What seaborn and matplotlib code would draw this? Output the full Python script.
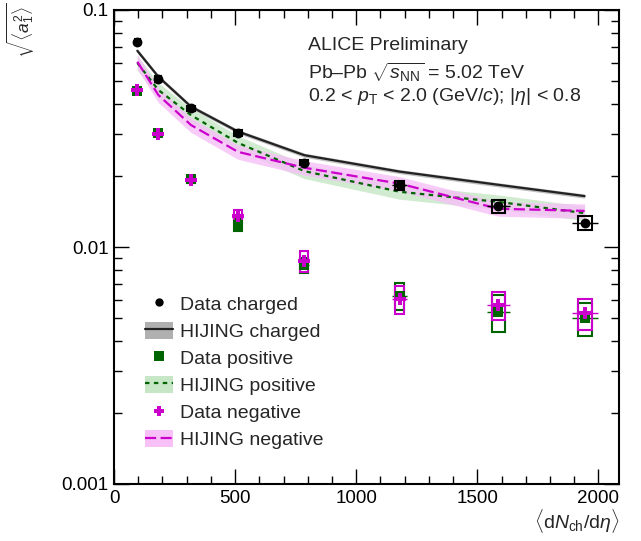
import numpy as np
import pandas as pd
import matplotlib
matplotlib.use('Agg')
import matplotlib.pyplot as plt
import seaborn as sns
from matplotlib.patches import Patch, Rectangle
from matplotlib.lines import Line2D
from matplotlib.ticker import MultipleLocator, LogLocator, NullFormatter, FixedLocator, FixedFormatter

# 数据
dndeta = [96.3, 183, 318, 512, 786, 1180, 1587, 1943]
dndeta_err = [6, 8, 12, 15, 20, 31, 47, 54]

data_charged = [0.0731, 0.0512, 0.0385, 0.0303, 0.0227, 0.0182, 0.0149, 0.0126]
syst_charged = [0.002, 0.0015, 0.001, 0.0008, 0.0006, 0.0008, 0.00095, 0.00085]

data_positive = [0.0457, 0.0302, 0.0193, 0.0124, 0.0084, 0.00624, 0.00533, 0.0050]
syst_positive = [0.0012, 0.0008, 0.0006, 0.0007, 0.00063, 0.00083, 0.00095, 0.0008]

data_negative = [0.0459, 0.0300, 0.0192, 0.01355, 0.00875, 0.00604, 0.00569, 0.00525]
syst_negative = [0.0012, 0.0008, 0.0006, 0.0008, 0.0009, 0.0008, 0.00075, 0.00078]

hijing_charged = [0.0673, 0.0523, 0.0391, 0.0307, 0.0244, 0.0208, 0.0183, 0.0164]
hijing_positive = [0.0598, 0.0460, 0.0360, 0.0275, 0.0209, 0.0171, 0.0155, 0.0139]
hijing_negative = [0.0605, 0.0438, 0.0327, 0.0252, 0.0216, 0.0185, 0.0145, 0.0142]
band_charged = 0.02
band_positive = 0.07
band_negative = 0.07

box_halfwidth = [10, 12, 15, 17, 17, 19, 27, 29]

GREEN = '#006400'
MAGENTA = '#cc00cc'

sns.set_style('ticks')
plt.rcParams['font.family'] = ['Liberation Sans', 'DejaVu Sans']
plt.rcParams['mathtext.fontset'] = 'custom'
plt.rcParams['mathtext.rm'] = 'Liberation Sans'
plt.rcParams['mathtext.it'] = 'Liberation Sans:italic'
plt.rcParams['mathtext.bf'] = 'Liberation Sans:bold'

fig = plt.figure(figsize=(6.41, 5.41), dpi=100)
ax = fig.add_axes([114 / 641, 57 / 541, 505 / 641, 474 / 541])

x = np.array(dndeta)


def draw_model(vals, frac, color, band_color, dashes, z):
    vals = np.array(vals)
    # 带先画, 线放在所有带之上
    ax.fill_between(x, vals * (1 - frac), vals * (1 + frac), color=band_color,
                    lw=0, alpha=0.8, zorder=z)
    sns.lineplot(x=x, y=vals, ax=ax, color=color, lw=1.6, sort=False,
                 estimator=None, zorder=z + 3)
    if dashes is not None:
        ax.lines[-1].set_dashes(dashes)


draw_model(hijing_charged, band_charged, '#222222', '#b0b0b0', None, 1)
draw_model(hijing_positive, band_positive, GREEN, '#c6e6c6', (2, 2), 1.5)
draw_model(hijing_negative, band_negative, MAGENTA, '#f7c0f7', (5, 2), 2)


def draw_boxes(vals, syst, color, z):
    for xi, yi, s, hw in zip(dndeta, vals, syst, box_halfwidth):
        ax.add_patch(Rectangle((xi - hw, yi - s), 2 * hw, 2 * s, fill=False,
                               edgecolor=color, lw=1.5, zorder=z))


draw_boxes(data_positive, syst_positive, GREEN, 6)
draw_boxes(data_negative, syst_negative, MAGENTA, 6.5)
draw_boxes(data_charged, syst_charged, 'black', 7)

ax.errorbar(dndeta, data_positive, xerr=dndeta_err, fmt='none', ecolor=GREEN,
            elinewidth=1, zorder=6)
ax.errorbar(dndeta, data_negative, xerr=dndeta_err, fmt='none', ecolor=MAGENTA,
            elinewidth=1, zorder=6.5)
ax.errorbar(dndeta, data_charged, xerr=dndeta_err, fmt='none', ecolor='black',
            elinewidth=1, zorder=7)

sns.scatterplot(x=dndeta, y=data_positive, ax=ax, marker='s', s=55,
                color=GREEN, linewidth=0, zorder=8)
sns.scatterplot(x=dndeta, y=data_negative, ax=ax, marker='P', s=70,
                color=MAGENTA, linewidth=0, zorder=9)
sns.scatterplot(x=dndeta, y=data_charged, ax=ax, marker='o', s=50,
                color='black', linewidth=0, zorder=10)

# 坐标轴
ax.set_yscale('log')
ax.set_xlim(0, 2085)
ax.set_ylim(0.001, 0.1)
ax.xaxis.set_major_locator(MultipleLocator(500))
ax.xaxis.set_minor_locator(MultipleLocator(100))
ax.yaxis.set_major_locator(FixedLocator([0.001, 0.01, 0.1]))
ax.yaxis.set_major_formatter(FixedFormatter(['0.001', '0.01', '0.1']))
ax.yaxis.set_minor_locator(LogLocator(base=10, subs=np.arange(2, 10)))
ax.yaxis.set_minor_formatter(NullFormatter())
ax.tick_params(which='both', direction='in', top=True, right=True,
               labelsize=13.5, width=1, color='black', labelcolor='black')
ax.tick_params(which='major', length=11, pad=4)
ax.tick_params(which='minor', length=6)
for sp in ax.spines.values():
    sp.set_visible(True)
    sp.set_linewidth(1.5)
    sp.set_color('black')
ax.set_xlabel('')
ax.set_ylabel('')

fig.text(0.966, 0.037, r'$\langle$d$N_{\rm ch}$/d$\eta\rangle$', ha='right',
         va='center', fontsize=14)
fig.text(0.033, 0.945, r'$\sqrt{\langle a_{1}^{2}\rangle}$', rotation=90,
         ha='center', va='center', fontsize=12.5)

ax.text(0.384, 0.926, 'ALICE Preliminary', transform=ax.transAxes,
        fontsize=14, va='center')
ax.text(0.384, 0.869, r'Pb–Pb $\sqrt{s_{\rm NN}}$ = 5.02 TeV',
        transform=ax.transAxes, fontsize=14, va='center')
ax.text(0.384, 0.817, r'0.2 < $p_{\rm T}$ < 2.0 (GeV/$c$); |$\eta$| < 0.8',
        transform=ax.transAxes, fontsize=14, va='center')

# 图例
h_dc = Line2D([], [], ls='none', marker='o', color='black', ms=6, mew=0)
h_hc = (Patch(facecolor='#b0b0b0', lw=0),
        Line2D([], [], color='#222222', lw=1.6))
h_dp = Line2D([], [], ls='none', marker='s', color=GREEN, ms=6.5, mew=0)
h_hp = (Patch(facecolor='#c6e6c6', lw=0),
        Line2D([], [], color=GREEN, lw=1.6, dashes=(2, 2)))
h_dn = Line2D([], [], ls='none', marker='P', color=MAGENTA, ms=7.5, mew=0)
h_hn = (Patch(facecolor='#f7c0f7', lw=0),
        Line2D([], [], color=MAGENTA, lw=1.6, dashes=(5, 2)))
ax.legend([h_dc, h_hc, h_dp, h_hp, h_dn, h_hn],
          ['Data charged', 'HIJING charged', 'Data positive',
           'HIJING positive', 'Data negative', 'HIJING negative'],
          loc='upper left', bbox_to_anchor=(0.061, 0.40), frameon=False,
          fontsize=14, borderpad=0, borderaxespad=0, handlelength=1.45,
          handletextpad=0.35, labelspacing=0.4, handleheight=1.0)

fig.savefig('out.png', dpi=100)
